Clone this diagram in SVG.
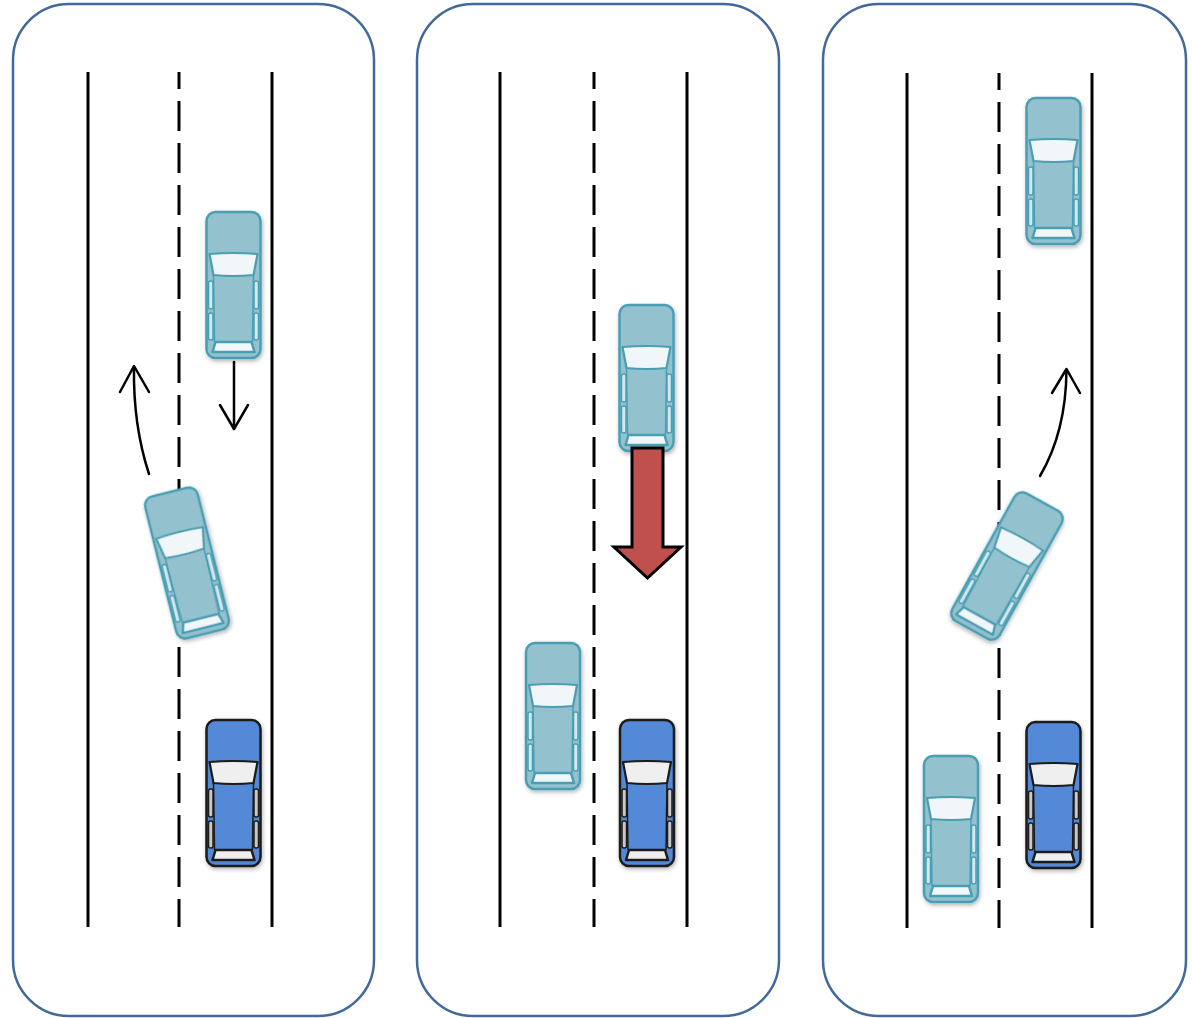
<svg xmlns="http://www.w3.org/2000/svg" xmlns:xlink="http://www.w3.org/1999/xlink" width="1192" height="1018" viewBox="0 0 1192 1018">
  <style>
    .panel { fill: #ffffff; stroke: #41699A; stroke-width: 2.5; }
    .edge { stroke: #000000; stroke-width: 3; fill: none; }
    .lane { stroke: #000000; stroke-width: 3; fill: none; stroke-dasharray: 30 12; stroke-dashoffset: 13; }
    .move { stroke: #000000; stroke-width: 2.5; fill: none; stroke-linecap: round; stroke-linejoin: round; }
    .brake { fill: #C0504D; stroke: #000000; stroke-width: 3; stroke-linejoin: miter; }
  </style>
  <defs>
    <filter id="soft" x="-30%" y="-30%" width="160%" height="160%">
      <feGaussianBlur in="SourceAlpha" stdDeviation="2"/>
      <feOffset dx="1" dy="2" result="b"/>
      <feComponentTransfer><feFuncA type="linear" slope="0.3"/></feComponentTransfer>
      <feMerge><feMergeNode/><feMergeNode in="SourceGraphic"/></feMerge>
    </filter>
    <!-- top-down car, front facing up, centred on the origin -->
    <g id="carLight" filter="url(#soft)">
      <rect x="-27" y="-73" width="54" height="146" rx="9" fill="#93C1CE" stroke="#4A9EB3" stroke-width="2.5"/>
      <path d="M-24,-31 Q0,-33 24,-31 L20,-10 Q0,-8 -20,-10 Z" fill="#F1F7F8" stroke="#4A9EB3" stroke-width="2.2" stroke-linejoin="round"/>
      <path d="M-20,-10 L-19,57 M20,-10 L19,57" fill="none" stroke="#4A9EB3" stroke-width="1.5"/>
      <rect x="-25" y="-4" width="4.5" height="28" rx="2" fill="#D3E9EF" stroke="#4A9EB3" stroke-width="1.5"/>
      <rect x="-25" y="28" width="4.5" height="27" rx="2" fill="#D3E9EF" stroke="#4A9EB3" stroke-width="1.5"/>
      <rect x="20.5" y="-4" width="4.5" height="28" rx="2" fill="#D3E9EF" stroke="#4A9EB3" stroke-width="1.5"/>
      <rect x="20.5" y="28" width="4.5" height="27" rx="2" fill="#D3E9EF" stroke="#4A9EB3" stroke-width="1.5"/>
      <path d="M-18,57 L18,57 L21,67 L-21,67 Z" fill="#F1F7F8" stroke="#4A9EB3" stroke-width="2.5" stroke-linejoin="round"/>
    </g>
    <g id="carDark" filter="url(#soft)">
      <rect x="-27" y="-73" width="54" height="146" rx="9" fill="#5389D6" stroke="#1A1A1A" stroke-width="2.5"/>
      <path d="M-24,-31 Q0,-33 24,-31 L20,-10 Q0,-8 -20,-10 Z" fill="#EFEFEF" stroke="#1A1A1A" stroke-width="2.2" stroke-linejoin="round"/>
      <path d="M-20,-10 L-19,57 M20,-10 L19,57" fill="none" stroke="#1A1A1A" stroke-width="1.5"/>
      <rect x="-25" y="-4" width="4.5" height="28" rx="2" fill="#C8C8C8" stroke="#1A1A1A" stroke-width="1.5"/>
      <rect x="-25" y="28" width="4.5" height="27" rx="2" fill="#C8C8C8" stroke="#1A1A1A" stroke-width="1.5"/>
      <rect x="20.5" y="-4" width="4.5" height="28" rx="2" fill="#C8C8C8" stroke="#1A1A1A" stroke-width="1.5"/>
      <rect x="20.5" y="28" width="4.5" height="27" rx="2" fill="#C8C8C8" stroke="#1A1A1A" stroke-width="1.5"/>
      <path d="M-18,57 L18,57 L21,67 L-21,67 Z" fill="#EFEFEF" stroke="#1A1A1A" stroke-width="2.5" stroke-linejoin="round"/>
    </g>
  </defs>

  <!-- scene 1: car ahead brakes, follower swerves left -->
  <g id="scene1">
    <rect class="panel" x="13" y="4" width="361" height="1012" rx="56"/>
    <line class="edge" x1="88" y1="72" x2="88" y2="927"/>
    <line class="lane" x1="179" y1="72" x2="179" y2="927"/>
    <line class="edge" x1="272" y1="72" x2="272" y2="927"/>
    <g id="s1-lead"><use xlink:href="#carLight" transform="translate(233.5,285)"/></g>
    <g id="s1-swerve"><use xlink:href="#carLight" transform="translate(187,563) rotate(-14)"/></g>
    <g id="s1-ego"><use xlink:href="#carDark" transform="translate(233.5,793)"/></g>
    <g id="s1-connectors">
      <path class="move" d="M149,474 Q133,425 134,367"/>
      <path class="move" d="M120,392 L134,366 L149,392"/>
      <path class="move" d="M234,362 L234,429"/>
      <path class="move" d="M220,405 L234,429 L248,405"/>
    </g>
  </g>

  <!-- scene 2: hard braking ahead -->
  <g id="scene2">
    <rect class="panel" x="417" y="4" width="362" height="1012" rx="56"/>
    <line class="edge" x1="500" y1="72" x2="500" y2="927"/>
    <line class="lane" x1="594" y1="72" x2="594" y2="927"/>
    <line class="edge" x1="687" y1="72" x2="687" y2="927"/>
    <g id="s2-lead"><use xlink:href="#carLight" transform="translate(646.5,378)"/></g>
    <g id="s2-left"><use xlink:href="#carLight" transform="translate(553,716)"/></g>
    <g id="s2-ego"><use xlink:href="#carDark" transform="translate(647,793)"/></g>
    <g id="s2-connectors">
      <path class="brake" d="M632,448 L663,448 L663,547 L681,547 L647.5,578 L614,547 L632,547 Z"/>
    </g>
  </g>

  <!-- scene 3: follower swerves right -->
  <g id="scene3">
    <rect class="panel" x="823" y="4" width="363" height="1012" rx="56"/>
    <line class="edge" x1="907" y1="73" x2="907" y2="928"/>
    <line class="lane" x1="999" y1="73" x2="999" y2="928"/>
    <line class="edge" x1="1092" y1="73" x2="1092" y2="928"/>
    <g id="s3-lead"><use xlink:href="#carLight" transform="translate(1053.5,171)"/></g>
    <g id="s3-swerve"><use xlink:href="#carLight" transform="translate(1007,566) rotate(29)"/></g>
    <g id="s3-left"><use xlink:href="#carLight" transform="translate(951,829)"/></g>
    <g id="s3-ego"><use xlink:href="#carDark" transform="translate(1053.5,795)"/></g>
    <g id="s3-connectors">
      <path class="move" d="M1040,476 Q1066,432 1066.5,370"/>
      <path class="move" d="M1052,393 L1066.5,369 L1080,393"/>
    </g>
  </g>
</svg>
